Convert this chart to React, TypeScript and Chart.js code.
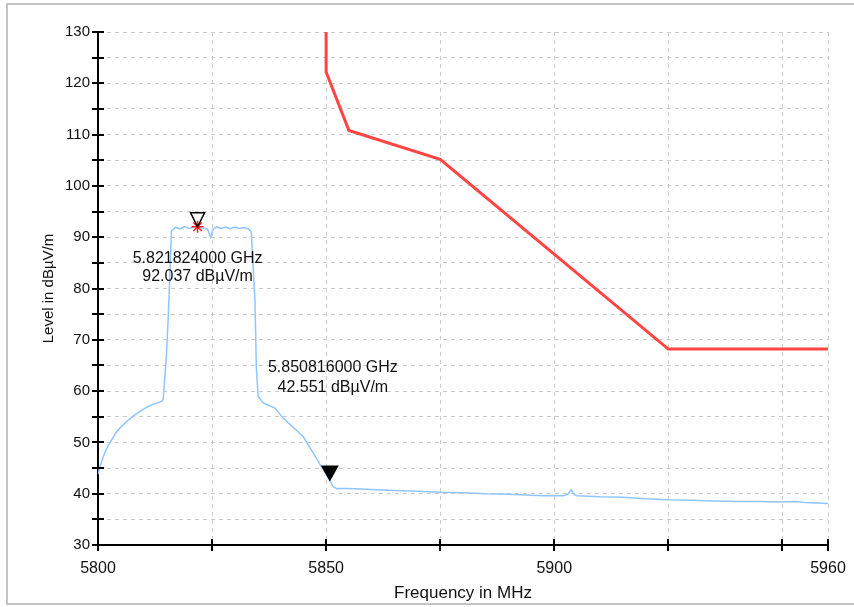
import React, { useEffect, useRef } from "react";
import { Chart, registerables } from "chart.js";

Chart.register(...registerables);

// Measured spectrum trace (MHz, dBµV/m)
const traceFreq = [
  5800.0, 5800.5, 5801.0, 5801.5, 5802.2, 5803.0, 5804.0, 5805.0, 5806.0, 5807.0,
  5808.0, 5809.0, 5810.0, 5811.0, 5812.0, 5813.0, 5814.0, 5814.3, 5815.0, 5815.4,
  5815.8, 5816.1, 5817.0, 5818.0, 5819.0, 5820.0, 5821.0, 5821.824, 5823.0, 5824.0,
  5824.7, 5825.2, 5826.0, 5827.0, 5828.0, 5829.0, 5830.0, 5831.0, 5832.0, 5833.0,
  5833.6, 5834.0, 5834.4, 5834.7, 5835.1, 5836.2, 5837.5, 5838.8, 5840.5, 5842.7,
  5845.0, 5847.2, 5849.0, 5850.816, 5851.6, 5852.3, 5855.0, 5860.0, 5865.0, 5870.0,
  5875.0, 5880.0, 5885.0, 5890.0, 5895.0, 5898.0, 5902.0, 5903.0, 5903.7, 5904.4,
  5905.0, 5910.0, 5915.0, 5920.0, 5925.0, 5930.0, 5935.0, 5940.0, 5945.0, 5950.0,
  5953.0, 5955.0, 5960.0,
];
const traceLevel = [
  43.8, 45.5, 46.8, 48.0, 49.3, 50.5, 52.0, 53.0, 53.8, 54.6,
  55.3, 55.9, 56.5, 57.0, 57.4, 57.7, 58.0, 58.5, 67.0, 74.5,
  84.0, 91.3, 91.9, 91.6, 92.1, 91.7, 92.0, 92.037, 91.8, 91.6,
  90.0, 91.5, 92.0, 91.7, 92.0, 91.6, 92.0, 91.7, 91.9, 91.6,
  91.0, 84.3, 77.8, 64.8, 59.0, 57.7, 57.2, 56.7, 54.8, 53.0,
  51.1, 47.9, 45.2, 42.551, 41.3, 41.0, 41.0, 40.8, 40.6, 40.5,
  40.3, 40.2, 40.0, 39.9, 39.7, 39.6, 39.6, 39.9, 40.8, 39.8,
  39.6, 39.4, 39.3, 39.0, 38.8, 38.7, 38.6, 38.5, 38.5, 38.4,
  38.5, 38.3, 38.1,
];

// Limit line (MHz, dBµV/m)
const limitFreq = [5850, 5850, 5855, 5875, 5925, 5960];
const limitLevel = [130, 122.2, 110.8, 105.2, 68.2, 68.2];

// Markers
const markerFreq = [5821.824, 5850.816];
const markerLevel = [92.037, 42.551];
const markerLine1 = ["5.821824000 GHz", "5.850816000 GHz"];
const markerLine2 = ["92.037 dBµV/m", "42.551 dBµV/m"];

// Axes
const xTickValues = [5800, 5825, 5850, 5875, 5900, 5925, 5950, 5960];
const xLabelValues = [5800, 5850, 5900, 5960];
const yMin = 30;
const yMax = 130;

const FONT = "'Liberation Sans', Arial, Helvetica, sans-serif";

const axisTickPlugin = {
  id: "axisTicks",
  afterDraw(chart: any) {
    const { ctx, scales } = chart;
    const xs = scales.x;
    const ys = scales.y;
    ctx.save();
    ctx.strokeStyle = "#000";
    ctx.lineWidth = 2;
    ctx.beginPath();
    for (const t of ys.ticks) {
      const py = Math.round(ys.getPixelForValue(t.value));
      ctx.moveTo(xs.left - 6, py);
      ctx.lineTo(xs.left + 6, py);
    }
    for (const t of xs.ticks) {
      const px = Math.round(xs.getPixelForValue(t.value));
      ctx.moveTo(px, ys.bottom - 6);
      ctx.lineTo(px, ys.bottom + 6);
    }
    ctx.stroke();
    ctx.restore();
  },
};

const markerPlugin = {
  id: "markers",
  afterDatasetsDraw(chart: any) {
    const { ctx, scales } = chart;
    const xs = scales.x;
    const ys = scales.y;
    ctx.save();
    // open triangle, marker 1
    {
      const px = xs.getPixelForValue(markerFreq[0]);
      const py = ys.getPixelForValue(markerLevel[0]);
      ctx.beginPath();
      ctx.moveTo(px, py);
      ctx.lineTo(px - 7, py - 14);
      ctx.lineTo(px + 7, py - 14);
      ctx.closePath();
      ctx.strokeStyle = "#000";
      ctx.lineWidth = 1.5;
      ctx.stroke();
      ctx.font = `16px ${FONT}`;
      ctx.fillStyle = "#111";
      ctx.textAlign = "center";
      ctx.textBaseline = "middle";
      ctx.fillText(markerLine1[0], px, py + 32);
      ctx.fillText(markerLine2[0], px, py + 50);
    }
    // filled triangle, marker 2
    {
      const px = xs.getPixelForValue(markerFreq[1]);
      const py = ys.getPixelForValue(markerLevel[1]);
      ctx.beginPath();
      ctx.moveTo(px, py + 1);
      ctx.lineTo(px - 9, py - 15);
      ctx.lineTo(px + 9, py - 15);
      ctx.closePath();
      ctx.fillStyle = "#000";
      ctx.fill();
      ctx.font = `16px ${FONT}`;
      ctx.fillStyle = "#111";
      ctx.textAlign = "center";
      ctx.textBaseline = "middle";
      ctx.fillText(markerLine1[1], px + 3, py - 113);
      ctx.fillText(markerLine2[1], px + 3, py - 93);
    }
    ctx.restore();
  },
};

export default function App() {
  const canvasRef = useRef<HTMLCanvasElement | null>(null);

  useEffect(() => {
    const canvas = canvasRef.current;
    if (!canvas) return;
    const chart = new Chart(canvas, {
      type: "line",
      data: {
        datasets: [
          {
            label: "Peak marker",
            data: [{ x: markerFreq[0], y: markerLevel[0] }],
            showLine: false,
            pointStyle: "star",
            pointRadius: 6,
            borderColor: "#ff2020",
            backgroundColor: "#ff2020",
            pointBorderWidth: 1.5,
          },
          {
            label: "Trace",
            data: traceFreq.map((f, i) => ({ x: f, y: traceLevel[i] })),
            borderColor: "#8fc6ff",
            borderWidth: 1.5,
            pointRadius: 0,
            tension: 0,
            fill: false,
          },
          {
            label: "Limit",
            data: limitFreq.map((f, i) => ({ x: f, y: limitLevel[i] })),
            borderColor: "#ff4444",
            borderWidth: 3,
            pointRadius: 0,
            tension: 0,
            fill: false,
          },
        ],
      },
      options: {
        animation: false,
        responsive: false,
        devicePixelRatio: 1,
        layout: { padding: { left: 0, right: 26, top: 32, bottom: 0 } },
        plugins: {
          legend: { display: false },
          tooltip: { enabled: false },
        },
        scales: {
          x: {
            type: "linear",
            min: 5800,
            max: 5960,
            afterBuildTicks: (scale: any) => {
              scale.ticks = xTickValues.map((v) => ({ value: v }));
            },
            afterFit: (scale: any) => {
              scale.height = 62;
              scale.paddingLeft = 0;
              scale.paddingRight = 0;
            },
            ticks: {
              autoSkip: false,
              maxRotation: 0,
              padding: 14,
              color: "#111",
              font: { family: FONT, size: 16 },
              callback: (v: any) => (xLabelValues.includes(Number(v)) ? String(v) : ""),
            },
            grid: {
              color: "#cccccc",
              lineWidth: 1,
              drawTicks: false,
            },
            border: { display: true, color: "#000", width: 2, dash: [4, 4] },
            title: {
              display: true,
              text: "Frequency in MHz",
              color: "#111",
              font: { family: FONT, size: 17 },
              padding: { top: 0, bottom: 3 },
            },
          },
          y: {
            type: "linear",
            min: yMin,
            max: yMax,
            afterFit: (scale: any) => {
              scale.width = 98;
              scale.paddingTop = 0;
              scale.paddingBottom = 0;
            },
            ticks: {
              stepSize: 5,
              padding: 8,
              color: "#111",
              font: { family: FONT, size: 15 },
              callback: (v: any) => (Number(v) % 10 === 0 ? String(v) : ""),
            },
            grid: {
              color: "#cccccc",
              lineWidth: 1,
              drawTicks: false,
            },
            border: { display: true, color: "#000", width: 2, dash: [4, 4] },
            title: {
              display: true,
              text: "Level in dBµV/m",
              color: "#111",
              font: { family: FONT, size: 15 },
              padding: { top: 40, bottom: 0 },
            },
          },
        },
      },
      plugins: [markerPlugin, axisTickPlugin],
    } as any);
    return () => chart.destroy();
  }, []);

  return (
    <div
      style={{
        position: "fixed",
        left: 0,
        top: 0,
        width: 854,
        height: 607,
        overflow: "hidden",
        background: "#fff",
      }}
    >
      <div
        style={{
          position: "absolute",
          left: 6,
          top: 3,
          width: 900,
          height: 602,
          boxSizing: "border-box",
          border: "2px solid #c4c4c4",
        }}
      />
      <canvas
        ref={canvasRef}
        width={854}
        height={607}
        style={{ position: "absolute", left: 0, top: 0, width: 854, height: 607 }}
      />
    </div>
  );
}
